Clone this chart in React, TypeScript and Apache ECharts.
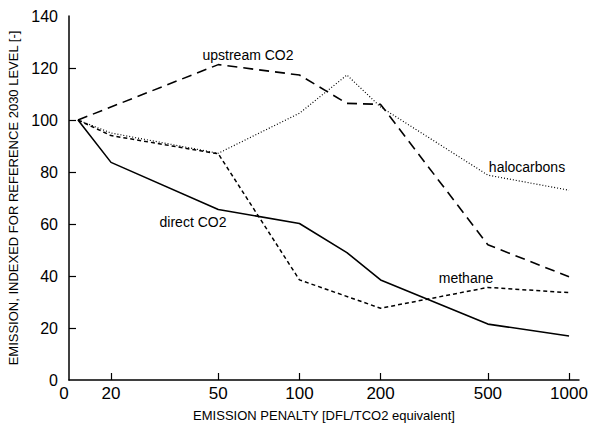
import React, { useEffect, useRef } from "react";
import * as echarts from "echarts";

// Emission penalty [DFL/tCO2 equivalent]; 0 is placed just right of the axis start
const penalties = [0, 20, 50, 100, 150, 200, 500, 1000];
const tickPenalties = [20, 50, 100, 200, 500, 1000];
const labelPenalties = [0, 20, 50, 100, 200, 500, 1000];
const yTicks = [20, 40, 60, 80, 100, 120];

const directCO2 = [100, 83.7, 65.6, 60.2, 49, 38.5, 21.5, 16.9];
const upstreamCO2 = [100, null, 121.3, 117.3, 106.4, 106, 52, 39.7];
const halocarbons = [100, 95, 87.2, 102.6, 117.3, 105, 78.8, 73];
const methane = [100, 94, 87, 38.5, null, 27.6, 35.6, 33.6];

// log10 positions of the axis range and of the "0" category
const X_MIN = 1.1452;
const X_MAX = 3.037;
const ZERO_T = 1.1786;

const pos = (p: number) => (p === 0 ? ZERO_T : Math.log10(p));
const toData = (vals: (number | null)[]) =>
  penalties.map((p, i) => [pos(p), vals[i]]);

const FONT = "Liberation Sans, Arial, Helvetica, sans-serif";

export default function App() {
  const ref = useRef<HTMLDivElement>(null);
  useEffect(() => {
    if (!ref.current) return;
    const chart = echarts.init(ref.current, undefined, { renderer: "svg" });
    const lineSeries = (name: string, vals: (number | null)[], type: any, width = 1.5) => ({
      name,
      type: "line",
      data: toData(vals),
      connectNulls: true,
      showSymbol: false,
      symbol: "none",
      lineStyle: { color: "#000", width, type },
      z: 3,
    });
    chart.setOption({
      animation: false,
      backgroundColor: "#fff",
      grid: { left: 69, right: 11, top: 16, bottom: 43, containLabel: false, outerBoundsMode: "none" },
      xAxis: {
        type: "value",
        min: X_MIN,
        max: X_MAX,
        name: "EMISSION PENALTY [DFL/TCO2 equivalent]",
        nameLocation: "middle",
        nameGap: 29,
        nameTextStyle: { fontFamily: FONT, fontSize: 13, color: "#000" },
        axisLine: { show: true, onZero: false, lineStyle: { color: "#000", width: 1.5 } },
        axisTick: {
          show: true,
          inside: true,
          length: 7,
          customValues: tickPenalties.map(pos),
          lineStyle: { color: "#000", width: 1.2 },
        },
        axisLabel: {
          show: true,
          customValues: [X_MIN, ...labelPenalties.slice(1).map(pos)],
          margin: 5,
          fontFamily: FONT,
          fontSize: 17,
          color: "#000",
          formatter: (v: number) => {
            if (Math.abs(v - X_MIN) < 1e-6) return "{z|0}";
            const p = labelPenalties.find((q) => q > 0 && Math.abs(Math.log10(q) - v) < 1e-6);
            return p !== undefined ? String(p) : "";
          },
          rich: { z: { fontFamily: FONT, fontSize: 17, color: "#000", padding: [0, 10, 0, 0] } },
        },
        splitLine: { show: false },
      },
      yAxis: {
        type: "value",
        min: 0,
        max: 140,
        interval: 20,
        name: "EMISSION, INDEXED FOR REFERENCE 2030 LEVEL [-]",
        nameLocation: "middle",
        nameGap: 49,
        nameTextStyle: { fontFamily: FONT, fontSize: 13, color: "#000" },
        axisLine: { show: true, lineStyle: { color: "#000", width: 1.5 } },
        axisTick: {
          show: true,
          inside: true,
          length: 7,
          customValues: yTicks,
          lineStyle: { color: "#000", width: 1.2 },
        },
        axisLabel: { margin: 11, fontFamily: FONT, fontSize: 16, color: "#000" },
        splitLine: { show: false },
      },
      series: [
        lineSeries("direct CO2", directCO2, "solid", 1.6),
        lineSeries("upstream CO2", upstreamCO2, [10, 6], 1.6),
        lineSeries("halocarbons", halocarbons, [1, 2], 1.2),
        lineSeries("methane", methane, [4, 3], 1.5),
      ],
      graphic: [
        { type: "text", x: 248, y: 55, style: { text: "upstream CO2", fontFamily: FONT, fontSize: 14, fill: "#000", textAlign: "center", textVerticalAlign: "middle" } },
        { type: "text", x: 527, y: 167, style: { text: "halocarbons", fontFamily: FONT, fontSize: 14, fill: "#000", textAlign: "center", textVerticalAlign: "middle" } },
        { type: "text", x: 193, y: 222, style: { text: "direct CO2", fontFamily: FONT, fontSize: 14, fill: "#000", textAlign: "center", textVerticalAlign: "middle" } },
        { type: "text", x: 466, y: 278, style: { text: "methane", fontFamily: FONT, fontSize: 14, fill: "#000", textAlign: "center", textVerticalAlign: "middle" } },
      ],
    });
    return () => chart.dispose();
  }, []);
  return <div ref={ref} style={{ width: 590, height: 423, position: "absolute", left: 0, top: 0 }} />;
}
